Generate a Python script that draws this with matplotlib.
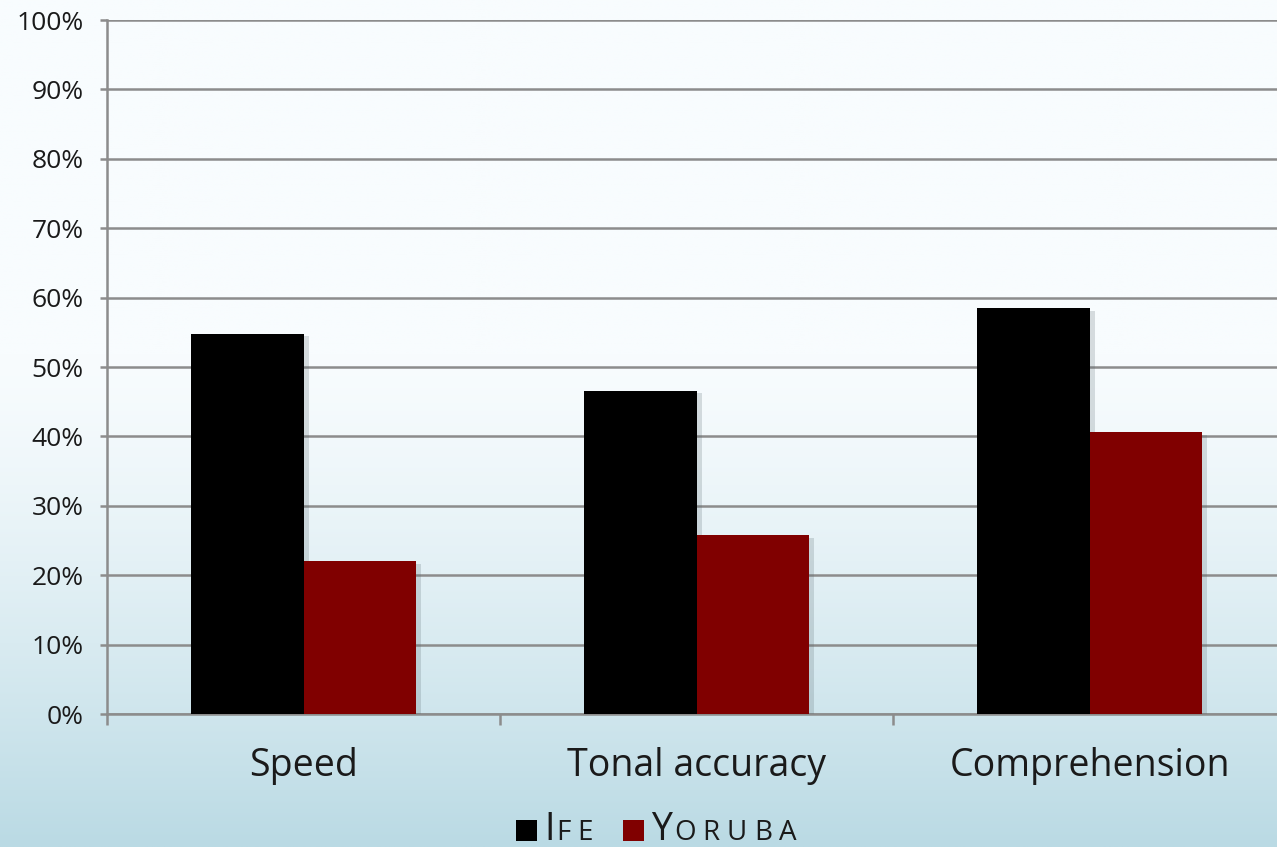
import numpy as np
import matplotlib
matplotlib.use("Agg")
import matplotlib.pyplot as plt
import matplotlib.patheffects as pe
from matplotlib.patches import Rectangle

categories = ["Speed", "Tonal accuracy", "Comprehension"]
ife = [0.548, 0.466, 0.585]
yoruba = [0.220, 0.258, 0.406]
yticks = np.arange(0, 1.01, 0.1)
ytick_labels = [f"{int(round(v*100))}%" for v in yticks]

FONT = ["Open Sans", "DejaVu Sans"]
plt.rcParams["font.family"] = FONT
TXT = "#1a1a1a"
GRID = "#8c8c8c"

W, H = 1277, 847
fig = plt.figure(figsize=(W/100, H/100), dpi=100)

# background gradient
bg = fig.add_axes([0, 0, 1, 1], zorder=-10)
bg.set_axis_off()
n = 400
t = np.linspace(0, 1, n)
top = np.array([248, 252, 254]) / 255
bot = np.array([186, 218, 228]) / 255
s = np.clip((t - 0.42) / 0.58, 0, 1) ** 1.3
cols = top[None, :] * (1 - s[:, None]) + bot[None, :] * s[:, None]
img = np.repeat(cols[:, None, :], 4, axis=1)
bg.imshow(img, aspect="auto", extent=[0, 1, 0, 1], origin="upper")
bg.set_xlim(0, 1); bg.set_ylim(0, 1)

left, right, bottom_px, top_px = 107, 1286, 714, 20
ax = fig.add_axes([left/W, 1 - bottom_px/H, (right-left)/W, (bottom_px-top_px)/H])
ax.patch.set_alpha(0)

x = np.arange(len(categories))
bw = 0.286
shadow = [pe.SimplePatchShadow(offset=(4, -2), shadow_rgbFace="#5a6a70", alpha=0.22), pe.Normal()]
b1 = ax.bar(x - bw/2, ife, bw, color="#000000", label="IFE", zorder=3)
b2 = ax.bar(x + bw/2, yoruba, bw, color="#800000", label="YORUBA", zorder=3)
for b in list(b1) + list(b2):
    b.set_path_effects(shadow)

ax.set_xlim(-0.5, 2.5)
ax.set_ylim(0, 1)
ax.set_yticks(yticks)
ax.set_yticklabels(ytick_labels)
ax.yaxis.grid(True, color=GRID, linewidth=1.8, zorder=0)
ax.set_axisbelow(True)
for sp in ["top", "right"]:
    ax.spines[sp].set_visible(False)
ax.spines["left"].set_color(GRID)
ax.spines["left"].set_linewidth(1.8)
ax.spines["bottom"].set_color(GRID)
ax.spines["bottom"].set_linewidth(1.8)
ax.tick_params(axis="y", colors=GRID, labelcolor=TXT, labelsize=19, length=5, width=1.8, pad=12)

ax.set_xticks(np.arange(-0.5, 2.51, 1.0))
ax.set_xticklabels([])
ax.set_xticks(x, minor=True)
ax.set_xticklabels(categories, minor=True)
ax.tick_params(axis="x", which="major", colors=GRID, length=8, width=1.8)
ax.tick_params(axis="x", which="minor", length=0, labelsize=27, labelcolor=TXT, pad=24)

# legend (small caps) drawn manually
fig.canvas.draw()
r = fig.canvas.get_renderer()

def smallcaps(xpx, ypx, parts):
    cur = xpx
    for txt, size, track in parts:
        for ch in txt:
            tt = fig.text(cur/W, 1 - ypx/H, ch, fontsize=size, color=TXT, va="baseline", ha="left")
            bb = tt.get_window_extent(renderer=r)
            cur += bb.width + track
    return cur

ybase = 840
for xs, color, parts in [
    (516, "#000000", [("I", 27, 2), ("FE", 20, 6)]),
    (623, "#800000", [("Y", 27, 2), ("ORUBA", 20, 7)]),
]:
    fig.patches.append(Rectangle((xs/W, 1 - 841/H), 21/W, 21/H, transform=fig.transFigure,
                                 facecolor=color, edgecolor="none"))
    smallcaps(xs + 28, ybase, parts)

fig.savefig("out.png", dpi=100)
